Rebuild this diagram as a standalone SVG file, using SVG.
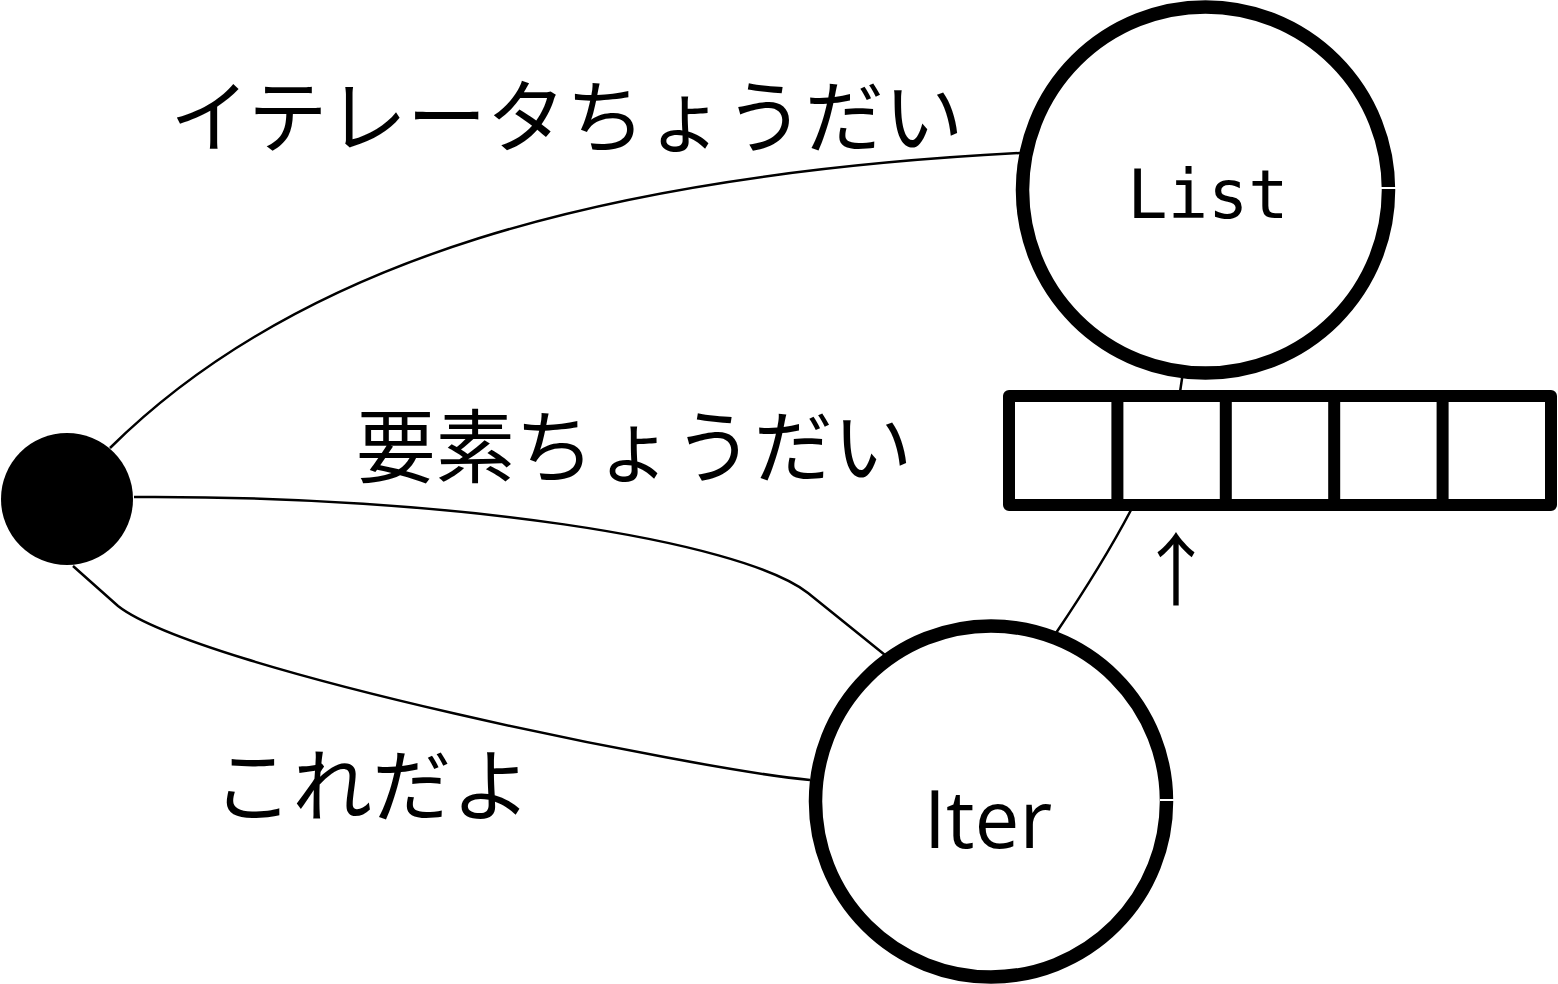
<svg xmlns="http://www.w3.org/2000/svg" width="1558" height="984" viewBox="0 0 1558 984">
<style>
.node{fill:#fff;stroke:#000;stroke-width:13.5}
.conn{fill:none;stroke:#000;stroke-width:2.5}
.jp{font-family:"Noto Sans CJK JP","Noto Sans",sans-serif;font-size:79.5px;fill:#000}
</style>
<rect width="1558" height="984" fill="#fff"/>
<g id="connectors">
<path class="conn" d="M110,448 C300,260 600,175 1020,153"/>
<path class="conn" d="M134,497 C450,495 740,540 808,593 L885,655"/>
<path class="conn" d="M73,566 L118,606 C200,670 700,770 810,780"/>
<path class="conn" d="M1183,372 L1180,392"/>
<path class="conn" d="M1131,510 C1110,550 1085,590 1056,633"/>
</g>
<g id="start"><circle cx="67" cy="499" r="66" fill="#000"/></g>
<g id="list">
<circle class="node" cx="1205.5" cy="190" r="183"/>
<line x1="1378" y1="188" x2="1400" y2="188" stroke="#fff" stroke-width="2"/>
<text x="1208" y="218" text-anchor="middle" font-family="DejaVu Sans Mono,monospace" font-size="67">List</text>
</g>
<g id="iter">
<circle class="node" cx="991" cy="801.5" r="175.5"/>
<line x1="1160" y1="800" x2="1180" y2="800" stroke="#fff" stroke-width="2"/>
<text x="988" y="848" text-anchor="middle" font-family="Open Sans,Noto Sans,sans-serif" font-size="80">Iter</text>
</g>
<g id="array">
<rect x="1009" y="396" width="542" height="109" fill="#fff" stroke="#000" stroke-width="12" stroke-linejoin="round"/>
<path d="M1117.4,396 V505 M1225.8,396 V505 M1334.2,396 V505 M1442.6,396 V505" stroke="#000" stroke-width="12" fill="none"/>
</g>
<g id="pointer"><text x="1176" y="599" text-anchor="middle" class="jp">↑</text></g>
<g id="labels">
<text class="jp" x="170" y="146">イテレータちょうだい</text>
<text class="jp" x="356" y="476">要素ちょうだい</text>
<text class="jp" x="213" y="815">これだよ</text>
</g>
</svg>
